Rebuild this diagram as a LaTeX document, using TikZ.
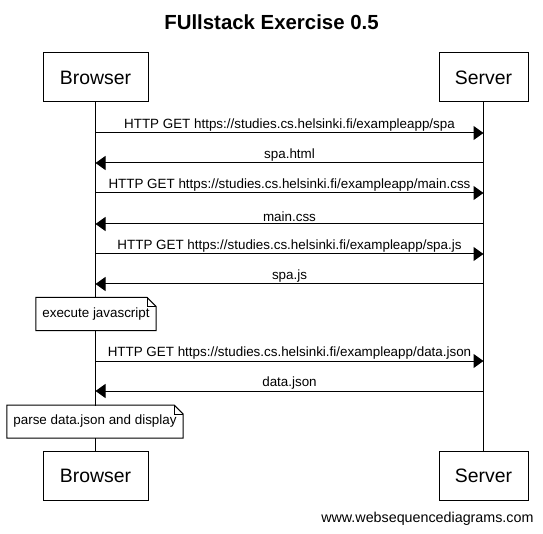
\documentclass[tikz,border=0pt]{standalone}
\usepackage{fontspec}
\setmainfont{Liberation Sans}
\usetikzlibrary{arrows.meta}

\begin{document}
\begin{tikzpicture}[x=1pt,y=-1pt,line width=1pt,
    actor/.style={draw,fill=white,minimum height=49pt,inner sep=0pt,font=\fontsize{19.4}{22}\selectfont},
    note/.style={fill=white,minimum height=32pt,inner sep=6pt,font=\fontsize{13.4}{15}\selectfont},
    msg/.style={-{Triangle[length=10pt,width=14pt]}},
    lbl/.style={font=\fontsize{13.4}{15}\selectfont,inner sep=0pt,above=1.5pt}]
  \useasboundingbox (0,0) rectangle (543,534);
  \node[font=\bfseries\fontsize{20.4}{23}\selectfont] (title) at (271.5,22) {FUllstack Exercise 0.5};
  % actors
  \node[actor,minimum width=105pt] (bt) at (95.5,77.5) {Browser};
  \node[actor,minimum width=89pt] (st) at (483.5,77.5) {Server};
  \node[actor,minimum width=105pt] (bb) at (95.5,475.5) {Browser};
  \node[actor,minimum width=89pt] (sb) at (483.5,475.5) {Server};
  \draw (bt.south) -- (bb.north);
  \draw (st.south) -- (sb.north);
  % message ends on the lifelines
  \foreach \i/\y in {1/133, 2/163, 3/193, 4/224, 5/254, 6/284, 7/361, 8/391} {
    \coordinate (b\i) at (bt.south |- 0,\y);
    \coordinate (s\i) at (st.south |- 0,\y);
  }
  \draw[msg] (b1) -- node[lbl] {HTTP GET https://studies.cs.helsinki.fi/exampleapp/spa} (s1);
  \draw[msg] (s2) -- node[lbl] {spa.html} (b2);
  \draw[msg] (b3) -- node[lbl] {HTTP GET https://studies.cs.helsinki.fi/exampleapp/main.css} (s3);
  \draw[msg] (s4) -- node[lbl] {main.css} (b4);
  \draw[msg] (b5) -- node[lbl] {HTTP GET https://studies.cs.helsinki.fi/exampleapp/spa.js} (s5);
  \draw[msg] (s6) -- node[lbl] {spa.js} (b6);
  \draw[msg] (b7) -- node[lbl] {HTTP GET https://studies.cs.helsinki.fi/exampleapp/data.json} (s7);
  \draw[msg] (s8) -- node[lbl] {data.json} (b8);
  % notes
  \node[note] (n1) at (96,314) {execute javascript};
  \node[note] (n2) at (95,421.5) {parse data.json and display};
  \foreach \n in {n1,n2} {
    \draw (\n.north west) -- ([xshift=-9pt]\n.north east) -- ([yshift=-9pt]\n.north east)
      -- (\n.south east) -- (\n.south west) -- cycle;
    \draw[line width=0.6pt] ([xshift=-9pt]\n.north east) -- ([xshift=-9pt,yshift=-9pt]\n.north east)
      -- ([yshift=-9pt]\n.north east);
  }
  \node[anchor=east,font=\fontsize{14.3}{16}\selectfont,inner sep=0pt] (web) at (534,519) {www.websequencediagrams.com};
\end{tikzpicture}
\end{document}
